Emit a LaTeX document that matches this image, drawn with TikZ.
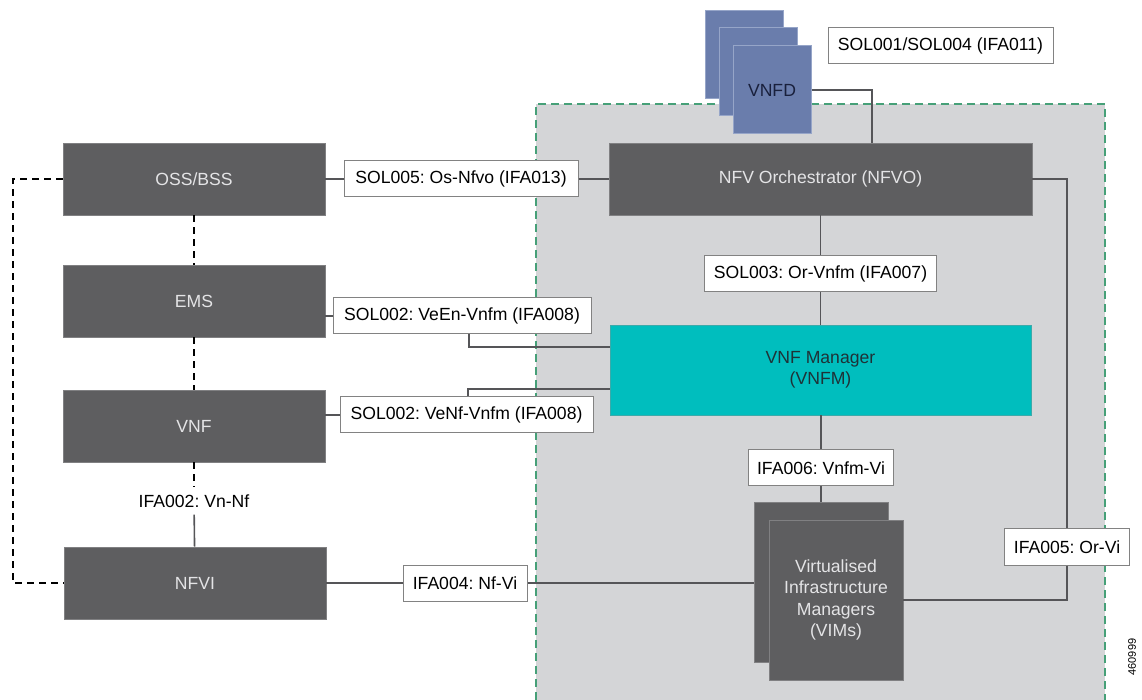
\documentclass[tikz,border=0pt]{standalone}
\usepackage{fontspec}
\setmainfont{Liberation Sans}
\frenchspacing
\definecolor{boxgray}{RGB}{94,94,96}
\definecolor{boxedge}{RGB}{128,128,130}
\definecolor{boxtext}{RGB}{228,228,230}
\definecolor{vnfdblue}{RGB}{106,125,172}
\definecolor{vnfdedge}{RGB}{150,165,200}
\definecolor{vnfdtext}{RGB}{25,32,60}
\definecolor{vnfmcyan}{RGB}{0,190,190}
\definecolor{vnfmedge}{RGB}{60,170,170}
\definecolor{vnfmtext}{RGB}{30,50,55}
\definecolor{zonegray}{RGB}{212,213,215}
\definecolor{zonegreen}{RGB}{70,160,120}
\definecolor{labeledge}{RGB}{130,130,130}
\definecolor{linkgray}{RGB}{85,85,88}
\begin{document}
\begin{tikzpicture}[x=0.5pt,y=-0.5pt,
  every node/.style={font=\fontsize{8.8}{10.7}\selectfont},
  darkbox/.style={fill=boxgray,draw=boxedge,line width=0.4pt,text=boxtext,minimum width=131pt,minimum height=36pt,inner sep=0pt,align=center},
  vnfdbox/.style={fill=vnfdblue,draw=vnfdedge,line width=0.5pt,minimum width=39pt,minimum height=44pt,inner sep=0pt},
  vimbox/.style={darkbox,minimum width=67pt,minimum height=80pt},
  ifbox/.style={fill=white,draw=labeledge,line width=0.5pt,minimum height=18pt,inner sep=0pt},
  link/.style={draw=linkgray,line width=0.8pt},
  mgmt/.style={draw=black,line width=1pt,dash pattern=on 3.5pt off 2.5pt}]
\useasboundingbox (0,0) rectangle (1142,700);
\fill[zonegray] (536,104) rectangle (1105,700);
\draw[zonegreen,line width=0.6pt,dash pattern=on 4pt off 2.5pt] (536,700) -- (536,104) -- (1105,104) -- (1105,700);
\node[darkbox] (oss) at (194,179) {OSS/BSS};
\node[darkbox] (ems) at (194,301) {EMS};
\node[darkbox] (vnf) at (194,426) {VNF};
\node[darkbox] (nfvi) at (195,583) {NFVI};
\node[darkbox,minimum width=211.5pt] (nfvo) at (820.5,179) {NFV Orchestrator (NFVO)};
\node[darkbox,fill=vnfmcyan,draw=vnfmedge,text=vnfmtext,minimum width=210.5pt,minimum height=45pt] (vnfm) at (820.5,370) {VNF Manager\\(VNFM)};
\node[vnfdbox] (vnfda) at (744,55) {};
\node[vnfdbox] (vnfdb) at (758,72) {};
\node[vnfdbox,text=vnfdtext] (vnfdc) at (772,90) {VNFD};
\node[vimbox] (vimsb) at (821,582) {};
\node[vimbox] (vimsf) at (836,600) {Virtualised\\Infrastructure\\Managers\\(VIMs)};
\node[ifbox,minimum width=112.5pt] (lpkg) at (940.5,46) {SOL001/SOL004 (IFA011)};
\node[ifbox,minimum width=117pt] (losnfvo) at (461,179) {SOL005: Os-Nfvo (IFA013)};
\node[ifbox,minimum width=129pt] (lveen) at (462,316) {SOL002: VeEn-Vnfm (IFA008)};
\node[ifbox,minimum width=126.5pt] (lvenf) at (466.5,415) {SOL002: VeNf-Vnfm (IFA008)};
\node[ifbox,minimum width=116pt] (lorvnfm) at (820.5,274) {SOL003: Or-Vnfm (IFA007)};
\node[ifbox,minimum width=72.5pt] (lvnfmvi) at (821,468) {IFA006: Vnfm-Vi};
\node[ifbox,minimum width=62pt] (lnfvi) at (465,583) {IFA004: Nf-Vi};
\node[ifbox,minimum width=62.5pt] (lorvi) at (1067,547) {IFA005: Or-Vi};
\node (lvnnf) at (194,501) {IFA002: Vn-Nf};
\node[rotate=90,font=\fontsize{5.5}{6}\selectfont] (figid) at (1132,657) {460999};
\coordinate (pkgk) at (872,143);
\coordinate (veenk) at (469,347);
\coordinate (venfk) at (468,389);
\coordinate (mgmtk) at (13,179);
\draw[link] (vnfdc.east) -| (pkgk);
\draw[link] (oss) -- (losnfvo) -- (nfvo);
\draw[link] (lveen.west) -- (lveen.west -| ems.east);
\draw[link] (lveen.south -| veenk) -- (veenk) -- (veenk -| vnfm.west);
\draw[link] (lvenf.west) -- (lvenf.west -| vnf.east);
\draw[link] (lvenf.north -| venfk) -- (venfk) -- (venfk -| vnfm.west);
\draw[link] (nfvo) -- (lorvnfm) -- (vnfm);
\draw[link] (vnfm.south -| lvnfmvi) -- (lvnfmvi) -- (vimsb);
\draw[link] (nfvi) -- (lnfvi) -- (lnfvi -| vimsb.west);
\draw[link] (nfvo.east) -| (lorvi.north);
\draw[link] (lorvi.south) |- (vimsf.east);
\draw[link] (lvnnf) -- (nfvi);
\draw[mgmt] (oss) -- (ems);
\draw[mgmt] (ems) -- (vnf);
\draw[mgmt] (vnf) -- (lvnnf);
\draw[mgmt] (oss.west) -- (mgmtk) |- (nfvi.west);
\end{tikzpicture}
\end{document}
